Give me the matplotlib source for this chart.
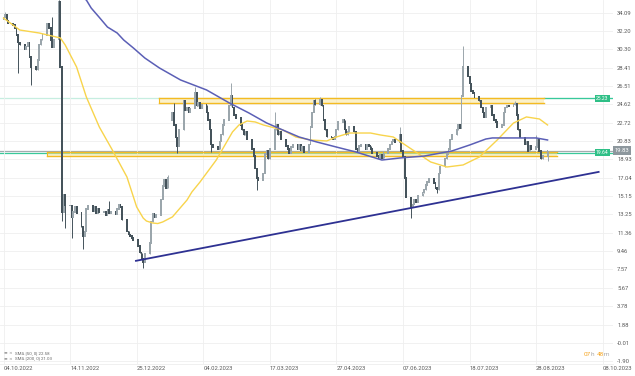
import matplotlib
matplotlib.use('Agg')
import matplotlib.pyplot as plt
import matplotlib.dates as mdates
from matplotlib.patches import Rectangle
import pandas as pd
import numpy as np

plt.rcParams['font.family'] = ['Roboto', 'DejaVu Sans']

# ---------------- data ----------------
START = "2022-10-04"
END = "2023-09-04"
CLOSES = [
    33.6, 33.9, 33.3, 33.0,
    32.8, 32.5, 31.8, 31.0, 30.8,
    30.3, 30.6, 31.0, 29.5, 28.5,
    28.2, 29.2, 30.8, 31.3, 31.8,
    33.0, 32.5, 31.2, 30.5, 31.3,
    35.2, 28.5, 13.5, 15.3, 14.2,
    14.2, 13.0, 13.5, 14.0, 13.4,
    12.0, 11.0, 11.5, 13.8, 14.2,
    13.6, 14.0, 13.4, 13.8, 13.5,
    13.5, 13.2, 13.7, 13.4, 13.5,
    13.3, 13.8, 14.3, 14.0, 12.7,
    11.5, 11.2, 11.0, 10.8, 10.6,
    10.0, 9.3, 8.7, 8.3, 9.2,
    10.3, 12.5, 13.3, 13.0, 13.2,
    14.8, 16.2, 16.8, 16.0, 17.0,
    23.8, 22.5, 21.2, 20.3, 22.0,
    25.0, 24.0, 24.3, 23.8, 24.2,
    25.8, 24.5, 24.8, 24.2, 24.6,
    23.8, 23.0, 22.0, 20.5, 20.2,
    20.0, 20.8, 21.5, 22.5, 23.0,
    24.5, 25.5, 24.3, 23.5, 23.2,
    22.5, 22.0, 21.5, 21.8, 21.0,
    20.0, 19.3, 18.0, 17.0, 16.8,
    17.5, 19.5, 19.8, 19.0, 20.0,
    22.0, 22.5, 21.5, 21.8, 21.0,
    20.3, 20.0, 19.6, 20.2, 20.5,
    20.0, 20.4, 19.9, 20.2, 19.7,
    20.5, 22.3, 23.8, 25.0, 24.6,
    25.1, 24.5, 23.0, 22.0, 21.3,
    21.2, 21.0, 21.3, 22.0, 22.8,
    23.0, 22.0, 21.5, 21.8, 22.3,
    21.8, 20.0, 19.7, 20.3, 20.5,
    20.0, 20.5, 20.3, 20.0, 19.6,
    19.3, 19.0, 19.4, 19.1, 19.6,
    20.0, 20.5, 20.8, 21.0, 20.7,
    21.5, 19.8, 19.2, 17.0, 15.0,
    14.0, 14.3, 14.8, 14.5, 15.2,
    15.5, 15.8, 16.3, 16.6, 16.9,
    16.5, 16.0, 15.8, 17.5, 18.2,
    19.0, 19.5, 20.0, 21.0, 21.5,
    22.0, 22.5, 22.2, 25.5, 28.5,
    27.5, 26.8, 26.0, 25.8, 25.4,
    25.0, 24.3, 23.8, 23.3, 24.3,
    24.5, 23.5, 23.0, 22.8, 22.3,
    22.5, 23.8, 24.3, 24.5, 24.4,
    24.6, 24.7, 23.5, 22.0, 21.2,
    20.5, 20.8, 19.8, 20.3, 20.0,
    20.2, 21.0, 19.8, 19.0, 19.3,
    19.83,
]
FIRST_OPEN = 33.4
OPEN_OVERRIDES = {"2023-01-16": 23.0}
HIGH_SPIKES = {"2022-10-05": 34.2, "2022-11-07": 36.5, "2022-11-03": 33.6,
               "2023-01-30": 26.4, "2023-02-21": 26.8, "2023-01-17": 24.8,
               "2023-03-20": 23.8, "2023-04-14": 25.2, "2023-04-17": 25.4,
               "2023-06-05": 22.3, "2023-07-14": 30.7, "2023-08-15": 25.0,
               "2023-08-28": 21.5, "2023-01-13": 17.3, "2022-12-08": 14.6,
               "2023-07-17": 28.6}
LOW_SPIKES = {"2022-10-13": 27.9, "2022-10-21": 26.6, "2022-11-09": 12.6,
              "2022-11-11": 11.8, "2022-11-15": 10.8, "2022-11-22": 9.7,
              "2022-12-29": 7.7, "2023-03-09": 15.8, "2023-06-12": 12.9,
              "2023-06-28": 15.5, "2023-09-04": 18.8, "2023-01-19": 19.6,
              "2023-02-09": 19.7}

SMA50_DATES = ["2022-10-04", "2022-10-14", "2022-10-26", "2022-11-08", "2022-11-11",
               "2022-11-18", "2022-11-24", "2022-12-02", "2022-12-10", "2022-12-19",
               "2022-12-25", "2022-12-29", "2022-12-31", "2023-01-04", "2023-01-07",
               "2023-01-10", "2023-01-16", "2023-01-25", "2023-01-28", "2023-02-02",
               "2023-02-12", "2023-02-22", "2023-02-26", "2023-03-03", "2023-03-08",
               "2023-03-13", "2023-03-25", "2023-04-02", "2023-04-11", "2023-04-21",
               "2023-04-27", "2023-05-05", "2023-05-18", "2023-05-24", "2023-06-01",
               "2023-06-13", "2023-06-24", "2023-07-04", "2023-07-14", "2023-07-24",
               "2023-08-04", "2023-08-14", "2023-08-22", "2023-08-30", "2023-09-04"]
SMA50_VALUES = [33.54, 32.30, 31.99, 31.48, 30.75, 28.48, 25.38, 22.28, 19.91, 17.12,
                14.02, 12.88, 12.57, 12.36, 12.31, 12.47, 12.99, 14.74, 15.57, 16.60,
                18.87, 21.77, 22.49, 22.90, 22.80, 22.49, 21.97, 21.25, 20.94, 20.84,
                21.25, 21.66, 21.66, 21.46, 21.25, 19.91, 18.67, 18.15, 18.36, 19.18,
                20.94, 22.69, 23.32, 23.11, 22.49]

SMA200_DATES = ["2022-11-22", "2022-11-24", "2022-11-27", "2022-12-02", "2022-12-07",
                "2022-12-13", "2022-12-17", "2022-12-23", "2022-12-30", "2023-01-08",
                "2023-01-21", "2023-02-06", "2023-02-20", "2023-03-04", "2023-03-15",
                "2023-03-25", "2023-04-04", "2023-04-15", "2023-04-27", "2023-05-09",
                "2023-05-25", "2023-06-05", "2023-06-20", "2023-07-07", "2023-07-18",
                "2023-07-28", "2023-08-01", "2023-08-18", "2023-08-28", "2023-09-04"]
SMA200_VALUES = [35.61, 35.40, 34.57, 33.60, 32.61, 31.99, 31.27, 30.44, 29.41, 28.38,
                 27.14, 26.11, 24.77, 23.74, 22.70, 21.97, 21.25, 20.73, 20.21, 19.70,
                 18.87, 19.08, 19.28, 19.80, 20.42, 21.04, 21.15, 21.15, 21.15, 20.94]

TREND_DATES = ["2022-12-24", "2023-10-06"]
TREND_VALUES = [8.44, 17.66]

BAND_UPPER = ("2023-01-08", "2023-09-02", 24.80, 25.28)
BAND_LOWER = ("2022-10-31", "2023-09-10", 19.28, 19.75)

LEVEL_TEAL_HI = 25.23
LEVEL_TEAL_LO = 19.64
LEVEL_LAST = 19.83

Y_TICKS = [34.09, 32.20, 30.30, 28.41, 26.51, 24.62, 22.72, 20.83, 18.93, 17.04,
           15.15, 13.25, 11.36, 9.46, 7.57, 5.67, 3.78, 1.88, -0.01, -1.90]
X_TICKS = ["2022-10-04", "2022-11-14", "2022-12-25", "2023-02-04", "2023-03-17",
           "2023-04-27", "2023-06-07", "2023-07-18", "2023-08-28", "2023-10-08"]
X_TICK_LABELS = ["04.10.2022", "14.11.2022", "25.12.2022", "04.02.2023", "17.03.2023",
                 "27.04.2023", "07.06.2023", "18.07.2023", "28.08.2023", "08.10.2023"]

SMA50_LABEL = "SMA [50, 0] 22.58"
SMA200_LABEL = "SMA [200, 0] 21.03"

# ---------------- figure ----------------
W, H = 635, 376
fig = plt.figure(figsize=(W / 100, H / 100), dpi=100)
AX_RIGHT = 613
AX_BOTTOM = 364
ax = fig.add_axes([0, (H - AX_BOTTOM) / H, AX_RIGHT / W, AX_BOTTOM / H])

def dn(s):
    return mdates.date2num(pd.Timestamp(s))

base = dn(START)
ax.set_xlim(base - 2.16, base + 375.3)
ax.set_ylim(-2.20, 35.40)

# grid
ax.set_yticks(Y_TICKS)
ax.set_yticklabels([f"{v:.2f}" for v in Y_TICKS])
ax.yaxis.tick_right()
ax.set_xticks([dn(d) for d in X_TICKS])
ax.set_xticklabels(X_TICK_LABELS, ha='left')
ax.tick_params(axis='y', length=0, pad=3, labelsize=4.2, labelcolor='#5a5a5a')
ax.tick_params(axis='x', length=0, pad=1.5, labelsize=4.2, labelcolor='#5a5a5a')
ax.grid(True, color='#efefef', lw=0.6, zorder=0)
for s in ['top', 'left', 'right']:
    ax.spines[s].set_visible(False)
ax.spines['bottom'].set_color('#eeeeee')
ax.spines['bottom'].set_linewidth(0.6)

# level lines
x0, x1 = ax.get_xlim()
ax.plot([x0, x1], [LEVEL_TEAL_HI] * 2, color='#c6eee0', lw=0.9, zorder=1)
ax.plot([dn(BAND_UPPER[1]), x1], [LEVEL_TEAL_HI] * 2, color='#38c99a', lw=0.9, zorder=1)
ax.plot([x0, x1], [LEVEL_LAST] * 2, color='#a3abb0', lw=0.9, zorder=1)
ax.plot([x0, x1], [LEVEL_TEAL_LO] * 2, color='#38c99a', lw=0.9, zorder=1)

# bands
for (s, e, lo, hi) in (BAND_UPPER, BAND_LOWER):
    ax.add_patch(Rectangle((dn(s), lo), dn(e) - dn(s), hi - lo,
                           facecolor='#f9e6a0', alpha=0.55, edgecolor='none', zorder=2))
    ax.plot([dn(s), dn(e)], [lo, lo], color='#f4bb22', lw=1.0, zorder=2)
    ax.plot([dn(s), dn(e)], [hi, hi], color='#f4bb22', lw=1.0, zorder=2)
    ax.plot([dn(s), dn(s)], [lo, hi], color='#f4bb22', lw=0.8, zorder=2)

# candles
dates = pd.bdate_range(START, END)
closes = np.array(CLOSES)
opens = np.concatenate([[FIRST_OPEN], closes[:-1]])
for d, v in OPEN_OVERRIDES.items():
    opens[dates.get_loc(pd.Timestamp(d))] = v
highs = np.maximum(opens, closes)
lows = np.minimum(opens, closes)
for d, v in HIGH_SPIKES.items():
    highs[dates.get_loc(pd.Timestamp(d))] = v
for d, v in LOW_SPIKES.items():
    lows[dates.get_loc(pd.Timestamp(d))] = v
xs = mdates.date2num(dates)
up = closes >= opens
col = np.where(up, '#9ba6ac', '#45535b')
ax.vlines(xs, lows, highs, colors=col, lw=0.7, zorder=3)
ax.bar(xs, np.abs(closes - opens) + 0.15, bottom=np.minimum(opens, closes) - 0.075,
       width=1.15, color=col, linewidth=0, zorder=3)

# SMAs
ax.plot([dn(d) for d in SMA50_DATES], SMA50_VALUES, color='#f8d44c', lw=1.0, zorder=4)
ax.plot([dn(d) for d in SMA200_DATES], SMA200_VALUES, color='#5b5fb6', lw=1.1, zorder=4)

# trend line
ax.plot([dn(d) for d in TREND_DATES], TREND_VALUES, color='#2e3192', lw=1.3, zorder=5,
        solid_capstyle='butt')

# price labels
def px(x, y):
    return x / W, 1 - y / H

yl0, yl1 = ax.get_ylim()
def y_px(v):
    return (yl1 - v) / (yl1 - yl0) * AX_BOTTOM

for v, txt in ((LEVEL_TEAL_HI, "25.23"), (LEVEL_TEAL_LO, "19.64")):
    fig.text(*px(596, y_px(v)), txt, fontsize=3.6, color='white', ha='left', va='center',
             bbox=dict(boxstyle='square,pad=0.25', facecolor='#2fbf86', edgecolor='none'),
             zorder=10)
fig.text(*px(614.5, y_px(LEVEL_LAST)), "19.83", fontsize=4.2, color='white', ha='left',
         va='center',
         bbox=dict(boxstyle='square,pad=0.3', facecolor='#8d979d', edgecolor='none'),
         zorder=10)

# legend
for yy, txt in ((353, SMA50_LABEL), (358.5, SMA200_LABEL)):
    fig.text(*px(4, yy), "\u2261 \u00d7", fontsize=3.2, color='#888888', ha='left',
             va='center', family='DejaVu Sans')
    fig.text(*px(15, yy), txt, fontsize=3.2, color='#666666', ha='left', va='center')

# countdown
fx, fy = px(584, 354)
t = fig.text(fx, fy, "07", fontsize=4.6, color='#f5a623', ha='left', va='center')
parts = [("h ", '#aaaaaa'), ("48", '#f5a623'), ("m", '#aaaaaa')]
fig.canvas.draw()
r = fig.canvas.get_renderer()
xcur = t.get_window_extent(r).x1
for s, c in parts:
    tt = fig.text(xcur / fig.bbox.width, fy, s, fontsize=4.6, color=c, ha='left', va='center')
    xcur = tt.get_window_extent(r).x1

fig.savefig('out.png', dpi=100)
